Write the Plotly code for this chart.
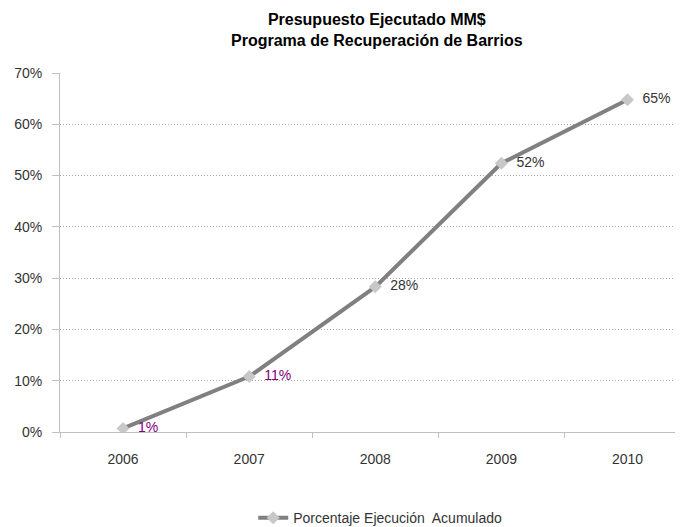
import plotly.graph_objects as go

years = ["2006", "2007", "2008", "2009", "2010"]
values = [0.007, 0.108, 0.283, 0.524, 0.648]
labels = ["1%", "11%", "28%", "52%", "65%"]
label_colors = ["#800080", "#800080", "#333333", "#333333", "#333333"]

fig = go.Figure()
fig.add_trace(go.Scatter(
    x=years, y=values, mode="lines+markers+text",
    name="Porcentaje Ejecución  Acumulado",
    line=dict(color="#808080", width=4),
    marker=dict(symbol="diamond", size=10, color="#c8c8c8"),
    text=["&nbsp;&nbsp;" + t for t in labels], textposition="middle right",
    textfont=dict(family="Liberation Sans, Arial", size=14, color=label_colors),
))

fig.update_layout(
    width=683, height=527,
    margin=dict(l=52, r=8, t=65, b=103, autoexpand=False),
    paper_bgcolor="white", plot_bgcolor="white",
    font=dict(family="Liberation Sans, Arial", color="#333333", size=14),
    title=dict(
        text="<b>Presupuesto Ejecutado MM$<br>Programa de Recuperación de Barrios</b>",
        x=0.540, xanchor="center", y=0.968, yanchor="top",
        font=dict(family="Liberation Sans, Arial", size=16, color="#000000"),
    ),
    showlegend=True,
    legend=dict(orientation="h", x=0.514, xanchor="center", y=-0.24, yanchor="middle",
                font=dict(size=14, color="#333333")),
)
fig.update_xaxes(
    type="category", range=[-0.5, 4.44], automargin=False,
    showline=True, linecolor="#c0c0c0", linewidth=1,
    ticks="outside", tickson="boundaries", ticklen=5, tickcolor="#c0c0c0",
    ticklabelstandoff=14,
    showgrid=False, tickfont=dict(size=14, color="#333333"),
)
fig.update_yaxes(
    range=[0, 0.7], dtick=0.1, tickformat=".0%", automargin=False,
    showline=True, linecolor="#c0c0c0", linewidth=1,
    ticks="outside", ticklen=7, tickcolor="#c0c0c0",
    ticklabelstandoff=7,
    showgrid=True, gridcolor="#a8a8a8", griddash="1px,2px", gridwidth=1,
    zeroline=False, tickfont=dict(size=14, color="#333333"),
)
fig.write_html("out.html")
